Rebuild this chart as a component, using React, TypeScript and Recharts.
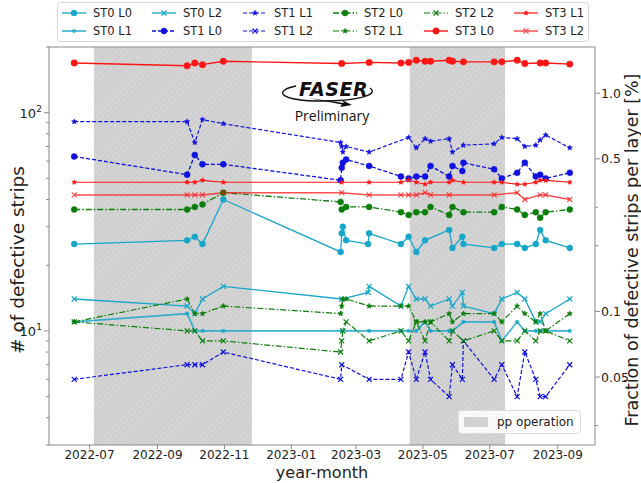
import { LineChart, Line, XAxis, YAxis, ReferenceArea } from 'recharts'

// measurement dates (one column per scan)
const dates = [
  '2022-06-17', '2022-09-28', '2022-10-05', '2022-10-12', '2022-10-31',
  '2023-02-15', '2023-02-16', '2023-02-17', '2023-02-20', '2023-03-12', '2023-03-13',
  '2023-04-11', '2023-04-18', '2023-04-25', '2023-05-03', '2023-05-08', '2023-05-25',
  '2023-05-28', '2023-06-06', '2023-06-07', '2023-07-05', '2023-07-12', '2023-07-26',
  '2023-08-02', '2023-08-12', '2023-08-16', '2023-08-21', '2023-09-12',
]

// defective strips per layer (null = no point drawn)
const st0L0 = [25, 26, 27, 25, 40, 23, 28, 30, 26, 25, 28, 25, 27, 23, 26, null, 29, 24, 27, 25, 24, 25, 25, 24, 25, 29, 26, 24]
const st0L1 = [11, 12, 10, 10, 10, null, 10, null, null, null, 10, 10, 10, 10, 11, 10, 10, 10, null, 11, 11, 9, 11, 10, 10, 10, 10, 10]
const st0L2 = [14, 13, 12, 14, 16, null, 14, null, null, 15, 16, 13, 16, 14, 14, 13, 14, 13, 15, 13, 12, 14, 15, 14, 11, 11, 12, 14]
const st1L0 = [63, 52, 64, 58, 58, 49, 56, 59, 61, null, 57, 51, 50, 51, 51, 57, 51, 57, 54, 59, 55, 50, 53, 59, 51, 52, 50, 53]
const st1L1 = [91, 91, 73, 93, 89, 73, 70, 66, 70, null, 66, null, 77, 69, 76, 74, 76, 66, null, 71, 72, 77, 76, 70, 71, 75, 79, 69]
const st1L2 = [6, 7, 7, 7, 8, 6, 7, null, null, null, 6, 6, 8, 6, 8, 6, 5, 7, 6, 9, 6, 7, 5, 8, 6, 5, 5, 7]
const st2L0 = [36, 36, 37, 38, 43, 39, 36, null, 37, null, 37, 35, 34, 35, 35, 37, 34, 37, null, 35, 35, 37, 36, 34, 35, 33, 35, 36]
const st2L1 = [11, 14, 12, 12, 13, 12, 13, 14, 14, null, 13, 13, 13, 11, 11, 11, 12, 11, null, 12, 12, 11, 13, 12, 11, 12, 10, 12]
const st2L2 = [11, 10, 10, 9, 9, 8, 9, 10, 11, null, 9, 10, 9, 11, 9, 11, 9, 10, null, 9, 10, 9, 9, 10, 9, 10, 10, 9]
const st3L0 = [169, 164, 169, 166, 172, null, 168, null, null, null, 170, 169, 170, 174, 172, 172, 174, 172, null, 171, 171, 171, 174, 168, null, 169, 169, 167]
const st3L1 = [48, 48, 48, 49, 48, null, 48, null, null, null, 48, 48, 49, 48, 47, 48, 48, 49, null, 48, 48, 48, 47, 47, 48, 49, 49, 48]
const st3L2 = [42, 42, 42, 42, 43, null, 43, null, null, null, 42, 42, 42, 42, 43, 42, 42, null, null, null, 42, null, 43, 40, null, 42, 42, 40]

const ppPeriods = [
  ['2022-07-05', '2022-11-26'],
  ['2023-04-19', '2023-07-15'],
]
const monthTicks = ['2022-07', '2022-09', '2022-11', '2023-01', '2023-03', '2023-05', '2023-07', '2023-09']
const countTicks = [3, 4, 5, 6, 7, 8, 9, 10, 20, 30, 40, 50, 60, 70, 80, 90, 100, 200]
const fractionTicks = [0.03, 0.05, 0.1, 0.2, 0.3, 0.5, 1.0]
const fractionLabels = [0.05, 0.1, 0.5, 1.0]

const STRIPS_PER_PCT = 122.88 // 12288 strips per layer
const COUNT_DOMAIN = [3, 200]

const W = 641
const H = 483
const PLOT_LEFT = 49
const PLOT_RIGHT = 595
const PLOT_TOP = 47
const PLOT_BOTTOM = 445
const FONT = 'DejaVu Sans, sans-serif'
const INK = '#222'
const FRAME = '#888'

const CYAN = '#17a6c9'
const BLUE = '#1010e0'
const GREEN = '#0a7d0a'
const RED = '#ff1414'

const DASH = '4 2'
const DASHDOT = '6 2 1.5 2'

const series = [
  { key: 'st0l0', name: 'ST0 L0', values: st0L0, color: CYAN, dash: undefined, marker: 'o', size: 3, width: 1.3, opacity: 1 },
  { key: 'st0l1', name: 'ST0 L1', values: st0L1, color: CYAN, dash: undefined, marker: '.', size: 1.8, width: 1.6, opacity: 0.85 },
  { key: 'st0l2', name: 'ST0 L2', values: st0L2, color: CYAN, dash: undefined, marker: 'x', size: 2.5, width: 1.3, opacity: 1 },
  { key: 'st1l0', name: 'ST1 L0', values: st1L0, color: BLUE, dash: DASH, marker: 'o', size: 3, width: 1.3, opacity: 1 },
  { key: 'st1l1', name: 'ST1 L1', values: st1L1, color: BLUE, dash: DASH, marker: '*', size: 2.8, width: 1.2, opacity: 1 },
  { key: 'st1l2', name: 'ST1 L2', values: st1L2, color: BLUE, dash: DASH, marker: 'x', size: 2.5, width: 1.2, opacity: 1 },
  { key: 'st2l0', name: 'ST2 L0', values: st2L0, color: GREEN, dash: DASHDOT, marker: 'o', size: 3, width: 1.3, opacity: 1 },
  { key: 'st2l1', name: 'ST2 L1', values: st2L1, color: GREEN, dash: DASHDOT, marker: '*', size: 2.8, width: 1.2, opacity: 1 },
  { key: 'st2l2', name: 'ST2 L2', values: st2L2, color: GREEN, dash: DASHDOT, marker: 'x', size: 2.5, width: 1.2, opacity: 1 },
  { key: 'st3l0', name: 'ST3 L0', values: st3L0, color: RED, dash: undefined, marker: 'o', size: 3.2, width: 1.4, opacity: 1 },
  { key: 'st3l1', name: 'ST3 L1', values: st3L1, color: RED, dash: undefined, marker: '*', size: 2.6, width: 1.2, opacity: 1 },
  { key: 'st3l2', name: 'ST3 L2', values: st3L2, color: RED, dash: undefined, marker: 'x', size: 2.5, width: 1.5, opacity: 0.75 },
]

const ts = (d: string) => Date.parse(d.length === 7 ? d + '-01' : d)

const rows = dates.map((d, i) => {
  const row: Record<string, number | null> = { t: ts(d) }
  for (const s of series) row[s.key] = s.values[i]
  return row
})

function fmtMonth(v: number) {
  const d = new Date(v)
  return `${d.getUTCFullYear()}-${String(d.getUTCMonth() + 1).padStart(2, '0')}`
}

function Marker({ kind, x, y, color, size }: { kind: string; x: number; y: number; color: string; size: number }) {
  if (kind === 'x') {
    const s = size
    return <path d={`M${x - s},${y - s}L${x + s},${y + s}M${x - s},${y + s}L${x + s},${y - s}`} stroke={color} strokeWidth={1.2} fill="none" />
  }
  if (kind === '*') {
    const pts: string[] = []
    for (let k = 0; k < 10; k++) {
      const r = k % 2 === 0 ? size : size * 0.45
      const a = -Math.PI / 2 + (k * Math.PI) / 5
      pts.push(`${(x + r * Math.cos(a)).toFixed(2)},${(y + r * Math.sin(a)).toFixed(2)}`)
    }
    return <polygon points={pts.join(' ')} fill={color} stroke={color} strokeWidth={0.5} />
  }
  return <circle cx={x} cy={y} r={size} fill={color} stroke={color} strokeWidth={0.5} />
}

function dotFor(s: (typeof series)[number]) {
  return (p: any) => {
    const k = `${s.key}-${p.index}`
    if (p.cx == null || p.cy == null || p.value == null) return <g key={k} />
    return (
      <g key={k} opacity={s.opacity}>
        <Marker kind={s.marker} x={p.cx} y={p.cy} color={s.color} size={s.size} />
      </g>
    )
  }
}

function LeftTick({ y, payload }: any) {
  const v = payload.value
  const major = v === 10 || v === 100
  return (
    <g>
      <line x1={PLOT_LEFT - (major ? 5 : 3)} x2={PLOT_LEFT} y1={y} y2={y} stroke={FRAME} strokeWidth={1} />
      {major && (
        <text x={PLOT_LEFT - 13} y={y + 5} textAnchor="end" fontSize={13} fontFamily={FONT} fill={INK}>
          10
        </text>
      )}
      {major && (
        <text x={PLOT_LEFT - 7} y={y - 1} textAnchor="end" fontSize={9} fontFamily={FONT} fill={INK}>
          {v === 10 ? '1' : '2'}
        </text>
      )}
    </g>
  )
}

function RightTick({ y, payload }: any) {
  const v = payload.value
  const major = fractionLabels.some((m) => Math.abs(m - v) < 1e-9)
  return (
    <g>
      <line x1={PLOT_RIGHT} x2={PLOT_RIGHT + (major ? 5 : 3)} y1={y} y2={y} stroke={FRAME} strokeWidth={1} />
      {major && (
        <text x={PLOT_RIGHT + 6} y={y + 4.5} textAnchor="start" fontSize={12.5} fontFamily={FONT} fill={INK}>
          {v === 1 ? '1.0' : String(v)}
        </text>
      )}
    </g>
  )
}

function Hatch({ x, y, width, height }: any) {
  return (
    <g>
      <defs>
        <pattern id="ppHatch" patternUnits="userSpaceOnUse" width={4} height={4} patternTransform="rotate(45)">
          <rect width={4} height={4} fill="#d4d4d4" />
          <line x1={0} y1={0} x2={0} y2={4} stroke="#c0c0c0" strokeWidth={1} />
        </pattern>
      </defs>
      <rect x={x} y={y} width={width} height={height} fill="url(#ppHatch)" />
    </g>
  )
}

function LegendSample({ s, x, y }: { s: (typeof series)[number]; x: number; y: number }) {
  return (
    <g opacity={s.opacity}>
      <line x1={x} x2={x + 24} y1={y} y2={y} stroke={s.color} strokeWidth={s.width} strokeDasharray={s.dash} />
      <Marker kind={s.marker} x={x + 12} y={y} color={s.color} size={s.size} />
    </g>
  )
}

function Overlay() {
  const colX = [62, 152, 243, 333, 424, 514]
  const rowY = [13, 31]
  return (
    <svg width={W} height={H} style={{ position: 'absolute', left: 0, top: 0, pointerEvents: 'none' }}>
      {/* frame */}
      <rect x={PLOT_LEFT} y={PLOT_TOP} width={PLOT_RIGHT - PLOT_LEFT} height={PLOT_BOTTOM - PLOT_TOP} fill="none" stroke={FRAME} strokeWidth={1} />

      {/* top legend */}
      <rect x={57.5} y={2.5} width={531} height={39} rx={3} fill="#fff" stroke="#d6d6d6" />
      {series.map((s, i) => {
        const cx = colX[Math.floor(i / 2)]
        const cy = rowY[i % 2]
        return (
          <g key={s.key}>
            <LegendSample s={s} x={cx} y={cy} />
            <text x={cx + 31} y={cy + 4} fontSize={11.5} fontFamily={FONT} fill={INK}>
              {s.name}
            </text>
          </g>
        )
      })}

      {/* pp operation legend */}
      <rect x={458.5} y={410.5} width={122} height={23} rx={3} fill="#fff" fillOpacity={0.85} stroke="#dcdcdc" />
      <rect x={464} y={417} width={24} height={10} fill="url(#ppHatch)" />
      <text x={497} y={426} fontSize={12} fontFamily={FONT} fill={INK}>
        pp operation
      </text>

      {/* FASER logo */}
      <g>
        <path d="M296,86 C272,91 280,101 322,101 C356,101 380,95 370,88" fill="none" stroke="#111" strokeWidth={1.4} />
        <path d="M308,98 L344,103 L342,100 L352,105 L340,107 L342,104.5 Z" fill="#111" />
        <text x={299} y={96} fontSize={19} fontWeight="bold" fontStyle="italic" fontFamily={FONT} fill="#111" letterSpacing={0.5}>
          FASER
        </text>
        <text x={332} y={121} textAnchor="middle" fontSize={14} fontFamily="Open Sans, sans-serif" fill="#111">
          Preliminary
        </text>
      </g>

      {/* axis titles */}
      <text x={322} y={478} textAnchor="middle" fontSize={16} fontFamily={FONT} fill={INK}>
        year-month
      </text>
      <text x={0} y={0} transform={`translate(24,260) rotate(-90)`} textAnchor="middle" fontSize={18.5} fontFamily={FONT} fill={INK}>
        # of defective strips
      </text>
      <text x={0} y={0} transform={`translate(638,${(PLOT_TOP + PLOT_BOTTOM) / 2 + 4}) rotate(-90)`} textAnchor="middle" fontSize={17.5} fontFamily={FONT} fill={INK}>
        Fraction of defective strips per layer [%]
      </text>
    </svg>
  )
}

export default function App() {
  return (
    <div style={{ position: 'absolute', left: 0, top: 0, width: W, height: H, background: '#fff' }}>
      <LineChart width={W} height={H} data={rows} margin={{ top: PLOT_TOP, right: 0, bottom: 0, left: 0 }}>
        <XAxis
          dataKey="t"
          type="number"
          scale="time"
          domain={[ts('2022-05-25'), ts('2023-10-05')]}
          allowDataOverflow
          ticks={monthTicks.map(ts)}
          tickFormatter={fmtMonth}
          height={H - PLOT_BOTTOM}
          axisLine={false}
          tickSize={4}
          tickMargin={1}
          tickLine={{ stroke: FRAME }}
          tick={{ fontSize: 12, fontFamily: FONT, fill: INK }}
        />
        <YAxis
          yAxisId="left"
          scale="log"
          domain={COUNT_DOMAIN}
          allowDataOverflow
          ticks={countTicks}
          interval={0}
          width={PLOT_LEFT}
          axisLine={false}
          tickLine={false}
          tick={<LeftTick />}
        />
        <YAxis
          yAxisId="right"
          orientation="right"
          scale="log"
          domain={COUNT_DOMAIN.map((v) => v / STRIPS_PER_PCT)}
          allowDataOverflow
          ticks={fractionTicks}
          interval={0}
          width={W - PLOT_RIGHT}
          axisLine={false}
          tickLine={false}
          tick={<RightTick />}
        />
        {ppPeriods.map(([a, b]) => (
          <ReferenceArea key={a} yAxisId="left" x1={ts(a)} x2={ts(b)} shape={<Hatch />} ifOverflow="hidden" />
        ))}
        {series.map((s) => (
          <Line
            key={s.key}
            yAxisId="left"
            type="linear"
            dataKey={s.key}
            name={s.name}
            stroke={s.color}
            strokeWidth={s.width}
            strokeOpacity={s.opacity}
            strokeDasharray={s.dash}
            dot={dotFor(s)}
            activeDot={false}
            connectNulls
            isAnimationActive={false}
          />
        ))}
      </LineChart>
      <Overlay />
    </div>
  )
}
